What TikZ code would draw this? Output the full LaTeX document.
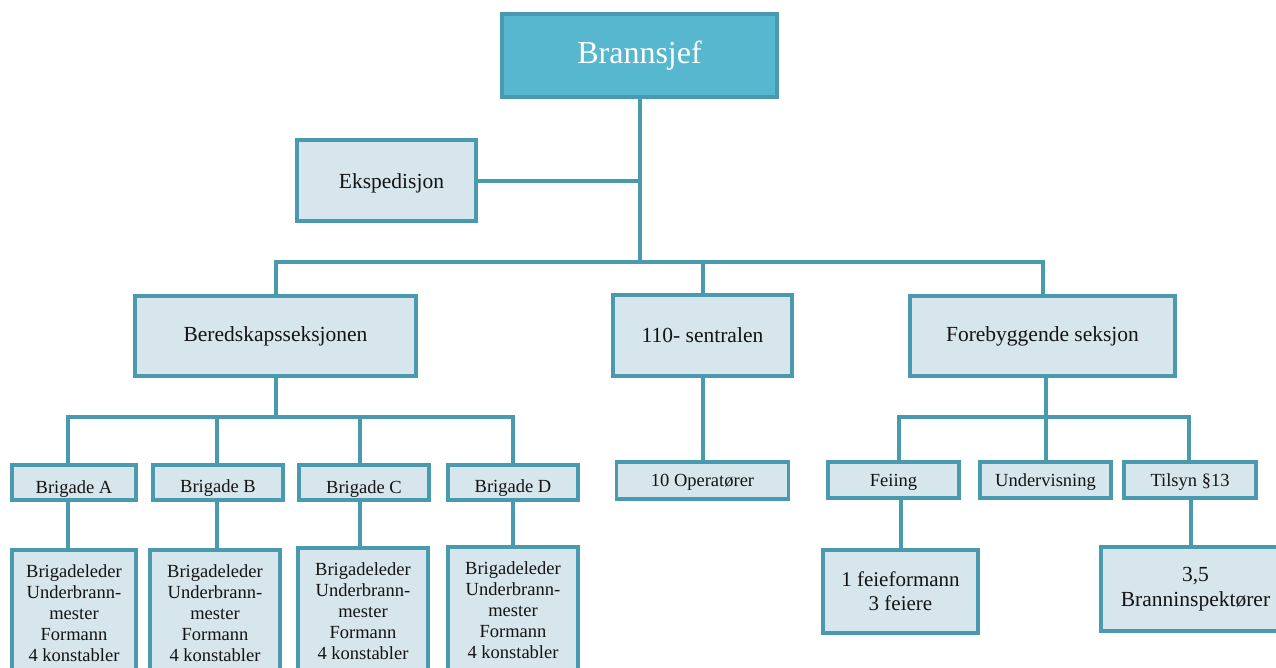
\documentclass[tikz,border=0pt]{standalone}
\usepackage{fontspec}
\setmainfont{Liberation Serif}
\definecolor{tealline}{HTML}{4A9AAF}
\definecolor{boxfill}{HTML}{D7E5EC}
\definecolor{headfill}{HTML}{56B7CF}
\definecolor{inktext}{HTML}{141414}
\newcommand{\dropt}[2]{\raisebox{-#1}[\height][0pt]{#2}}
\begin{document}
\begin{tikzpicture}[x=1pt,y=-1pt,
  box/.style={draw=tealline, fill=boxfill, line width=3.5pt, inner sep=0pt, align=center, text=inktext},
  big/.style={font=\fontsize{21.5}{25}\selectfont},
  small/.style={font=\fontsize{18.5}{21}\selectfont},
  detail/.style={box, small, anchor=north, inner ysep=15pt},
  conn/.style={draw=tealline, line width=4pt}]
\useasboundingbox (0,0) rectangle (1276,667);
\clip (0,0) rectangle (1276,667);
\fill[white] (0,0) rectangle (1276,667);

% top levels
\node[box, fill=headfill, text=white, font=\fontsize{32}{36}\selectfont, minimum width=275pt, minimum height=83pt] (chief) at (639.5,55.5) {Brannsjef};
\node[box, big, minimum width=179pt, minimum height=81pt] (eksp) at (386.5,180.5) {\hspace*{10pt}\dropt{1pt}{Ekspedisjon}};
\node[box, big, minimum width=281pt, minimum height=80pt] (bered) at (275.5,336) {Beredskapsseksjonen};
\node[box, big, minimum width=179pt, minimum height=81pt] (sentral) at (702.5,335.5) {110- sentralen};
\node[box, big, minimum width=265pt, minimum height=80pt] (foreb) at (1042.5,336) {Forebyggende seksjon};

% brigades
\node[box, small, minimum width=124pt, minimum height=35pt] (brigA) at (74,482.5) {\dropt{5pt}{Brigade A}};
\node[box, small, minimum width=130pt, minimum height=35pt] (brigB) at (218,482.5) {\dropt{4pt}{Brigade B}};
\node[box, small, minimum width=130pt, minimum height=35pt] (brigC) at (364,482.5) {\dropt{5pt}{Brigade C}};
\node[box, small, minimum width=130pt, minimum height=35pt] (brigD) at (513,482.5) {\dropt{4pt}{Brigade D}};

\node[detail, minimum width=124pt] (detA) at (74,548) {Brigadeleder\\Underbrann-\\mester\\Formann\\4 konstabler};
\node[detail, minimum width=130pt] (detB) at (215,548) {Brigadeleder\\Underbrann-\\mester\\Formann\\4 konstabler};
\node[detail, minimum width=130pt] (detC) at (363,546) {Brigadeleder\\Underbrann-\\mester\\Formann\\4 konstabler};
\node[detail, minimum width=130pt] (detD) at (513,545) {Brigadeleder\\Underbrann-\\mester\\Formann\\4 konstabler};

% 110 and forebyggende
\node[box, small, minimum width=172pt, minimum height=37pt] (oper) at (702.5,480.5) {\dropt{0pt}{10 Operatører}};
\node[box, small, minimum width=131pt, minimum height=36pt] (feiing) at (893.5,480) {\dropt{0pt}{Feiing}};
\node[box, small, minimum width=131pt, minimum height=36pt] (underv) at (1045.5,480) {\dropt{0pt}{Undervisning}};
\node[box, small, minimum width=132pt, minimum height=36pt] (tilsyn) at (1190,480) {\dropt{0pt}{Tilsyn §13}};
\node[box, font=\fontsize{21}{24}\selectfont, minimum width=155pt, minimum height=83pt] (feie) at (900.5,591.5) {1 feieformann\\3 feiere};
\node[box, font=\fontsize{21.5}{25}\selectfont, minimum width=189pt, minimum height=84pt] (insp) at (1195.5,589) {3,5\\Branninspektører};

% connectors
\coordinate (busA) at (639,262);
\draw[conn] (chief.south) -- (chief.south |- busA);
\draw[conn] (eksp.east) -- (eksp.east -| chief.south);
\draw[conn] (bered.north) |- (busA) -| (foreb.north);
\draw[conn] (sentral.north) -- (sentral.north |- busA);

\coordinate (busB) at (275,417);
\draw[conn] (bered.south) -- (bered.south |- busB);
\draw[conn] ([xshift=-6pt]brigA.north) |- (busB) -| (brigD.north);
\draw[conn] ([xshift=-1pt]brigB.north) -- ([xshift=-1pt]brigB.north |- busB);
\draw[conn] ([xshift=-4pt]brigC.north) -- ([xshift=-4pt]brigC.north |- busB);
\draw[conn] ([xshift=-6pt]brigA.south) -- ([xshift=-6pt]brigA.south |- detA.north);
\draw[conn] ([xshift=-1pt]brigB.south) -- ([xshift=-1pt]brigB.south |- detB.north);
\draw[conn] ([xshift=-4pt]brigC.south) -- ([xshift=-4pt]brigC.south |- detC.north);
\draw[conn] (brigD.south) -- (detD.north);

\draw[conn] (sentral.south) -- (oper.north);

\coordinate (busC) at (1046,417);
\draw[conn] ([xshift=3pt]foreb.south) -- ([xshift=3pt]foreb.south |- busC);
\draw[conn] ([xshift=5.5pt]feiing.north) |- (busC) -| ([xshift=-1pt]tilsyn.north);
\draw[conn] (underv.north) -- (underv.north |- busC);
\draw[conn] ([xshift=7pt]feiing.south) -- ([xshift=7pt]feiing.south |- feie.north);
\draw[conn] ([xshift=1pt]tilsyn.south) -- ([xshift=1pt]tilsyn.south |- insp.north);
\end{tikzpicture}
\end{document}
